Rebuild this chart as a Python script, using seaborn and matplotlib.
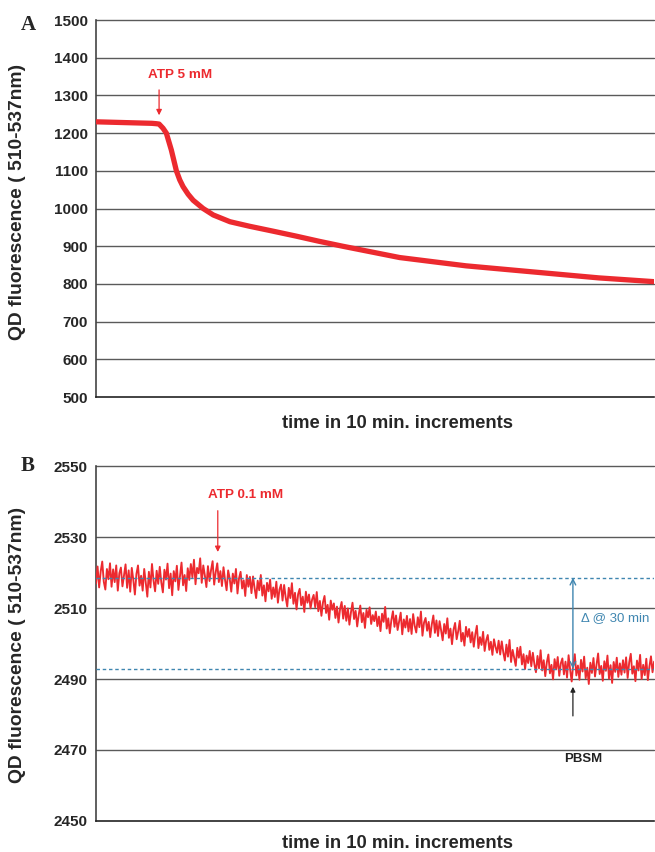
import numpy as np
import pandas as pd
import matplotlib
matplotlib.use("Agg")
import matplotlib.pyplot as plt
import seaborn as sns

sns.set_style("white")
plt.rcParams['font.family'] = ['Liberation Sans', 'DejaVu Sans']

# ---------------- data ----------------
# Panel A : time (10-min increments) vs QD fluorescence, ATP 5 mM
a_time = [0.0, 0.5, 1.0, 1.08, 1.13, 1.2, 1.26, 1.3, 1.35, 1.44, 1.5, 1.56, 1.65,
          1.74, 1.92, 2.1, 2.4, 2.75, 3.17, 3.58, 4.0, 4.42, 5.44, 6.63, 7.82,
          9.01, 10.0]
a_value = [1230, 1228, 1226, 1225, 1224, 1213, 1200, 1180, 1155, 1100, 1076, 1058,
           1038, 1022, 1000, 983, 965, 953, 940, 927, 913, 900, 870, 848, 832,
           816, 806]

# Panel B : QD fluorescence, ATP 0.1 mM (noisy trace)
b_value = [
    2516.9, 2521.7, 2515.8, 2520.3, 2523.1, 2517.4, 2515.2, 2521.0, 2518.1, 2522.6,
    2516.0, 2520.9, 2517.3, 2522.0, 2514.9, 2519.8, 2521.4, 2516.1, 2519.2, 2522.3,
    2515.7, 2520.6, 2514.6, 2521.3, 2517.9, 2513.8, 2519.6, 2522.0, 2516.3, 2519.1,
    2514.9, 2521.0, 2517.0, 2513.2, 2520.2, 2515.8, 2522.4, 2517.7, 2514.7, 2520.5,
    2516.8, 2521.6, 2517.2, 2514.4, 2520.8, 2518.0, 2522.5, 2515.6, 2519.7, 2513.6,
    2520.4, 2517.5, 2521.9, 2515.1, 2518.9, 2522.8, 2516.4, 2519.3, 2514.8, 2521.2,
    2517.9, 2522.4, 2518.6, 2523.6, 2516.7, 2521.3, 2519.8, 2524.0, 2517.1, 2522.0,
    2519.2, 2515.9, 2521.8, 2517.6, 2520.7, 2523.2, 2516.6, 2520.1, 2522.6, 2517.3,
    2520.4, 2516.2, 2521.5, 2517.9, 2515.0, 2520.6, 2518.3, 2514.6, 2519.7, 2516.9,
    2521.0, 2514.1, 2518.4, 2520.2, 2515.5, 2517.8, 2513.4, 2519.3, 2516.0, 2518.8,
    2514.2, 2518.9, 2515.6, 2512.8, 2517.7, 2515.0, 2519.3, 2513.5, 2516.4, 2511.9,
    2517.1, 2514.7, 2518.0, 2512.6, 2515.8, 2513.1, 2517.4, 2511.5, 2515.2, 2516.6,
    2512.1, 2516.5, 2513.0, 2510.4, 2515.7, 2512.8, 2517.0, 2511.2, 2514.3, 2509.6,
    2513.9, 2515.4, 2510.8, 2513.2, 2508.9, 2514.6, 2511.5, 2513.8, 2509.9, 2512.4,
    2513.7, 2510.2, 2514.5, 2509.1, 2512.0, 2507.8, 2511.6, 2513.4, 2508.6, 2510.9,
    2506.7, 2512.1, 2509.5, 2511.3, 2507.2, 2510.4, 2505.9, 2509.8, 2511.7, 2507.0,
    2510.6, 2506.4, 2509.9, 2505.3, 2508.8, 2511.5, 2506.9, 2509.2, 2504.8, 2508.1,
    2510.7, 2506.0, 2508.6, 2504.4, 2509.5, 2507.4, 2510.2, 2505.5, 2508.0, 2506.3,
    2509.0, 2504.9, 2507.6, 2503.5, 2508.4, 2506.1, 2510.3, 2504.2, 2507.1, 2502.9,
    2506.6, 2509.1, 2504.7, 2507.9, 2503.8, 2506.3, 2508.7, 2502.6, 2506.8, 2504.5,
    2507.8, 2503.4, 2506.9, 2502.7, 2508.3, 2505.0, 2503.1, 2507.4, 2504.6, 2509.0,
    2502.2, 2505.9, 2507.2, 2503.6, 2506.1, 2501.8, 2505.4, 2507.9, 2503.0, 2506.5,
    2502.1, 2506.3, 2503.7, 2500.9, 2505.5, 2502.8, 2507.1, 2501.6, 2504.2, 2499.8,
    2503.9, 2505.8, 2501.2, 2503.5, 2506.4, 2500.6, 2503.0, 2499.4, 2504.7, 2501.9,
    2504.1, 2500.3, 2503.2, 2499.1, 2502.6, 2505.0, 2498.7, 2501.8, 2499.6, 2503.3,
    2497.9, 2500.9, 2502.4, 2498.2, 2500.5, 2496.8, 2501.2, 2499.0, 2497.4, 2500.8,
    2496.9, 2500.6, 2497.5, 2495.2, 2499.7, 2496.3, 2501.0, 2494.8, 2498.2, 2495.9,
    2493.7, 2498.8, 2496.0, 2499.1, 2494.1, 2497.0, 2492.8, 2496.6, 2494.5, 2497.9,
    2493.6, 2497.4, 2494.2, 2491.9, 2496.5, 2493.0, 2498.1, 2492.4, 2495.3, 2490.8,
    2494.7, 2496.9, 2491.6, 2494.0, 2489.9, 2495.6, 2492.7, 2496.2, 2490.9, 2494.4,
    2495.8, 2491.3, 2494.9, 2490.4, 2496.7, 2492.6, 2489.3, 2494.3, 2497.0, 2491.0,
    2493.8, 2489.8, 2495.4, 2492.1, 2496.3, 2490.2, 2493.2, 2488.6, 2494.6, 2491.7,
    2495.9, 2490.7, 2494.1, 2497.2, 2491.4, 2493.7, 2489.5, 2495.0, 2492.3, 2496.6,
    2490.1, 2493.9, 2488.9, 2494.8, 2492.0, 2496.0, 2490.6, 2494.4, 2491.2, 2495.3,
    2491.8, 2496.1, 2490.3, 2494.7, 2497.1, 2491.5, 2493.6, 2489.4, 2495.2, 2492.4,
    2496.8, 2490.0, 2494.0, 2491.1, 2495.7, 2489.7, 2493.5, 2496.4, 2491.9, 2494.9,
]
b_time = np.linspace(0.0, 4.95, len(b_value))

baseline_before = 2518.5
baseline_after = 2492.9

a_yticks = [500, 600, 700, 800, 900, 1000, 1100, 1200, 1300, 1400, 1500]
b_yticks = [2450, 2470, 2490, 2510, 2530, 2550]

xlabel = "time in 10 min. increments"
ylabel = "QD fluorescence ( 510-537nm)"

RED = "#ec2a2f"
BLUE = "#3f86b0"
GRID = "#5a5a5a"

# ---------------- figure ----------------
fig = plt.figure(figsize=(6.55, 8.52), dpi=100)
axA = fig.add_axes([0.1466, 0.534, 0.852, 0.4425])
axB = fig.add_axes([0.1466, 0.0364, 0.852, 0.4166])

dfA = pd.DataFrame({"t": a_time, "v": a_value})
dfB = pd.DataFrame({"t": b_time, "v": b_value})

sns.lineplot(data=dfA, x="t", y="v", ax=axA, color=RED, linewidth=3.8, zorder=3)
sns.lineplot(data=dfB, x="t", y="v", ax=axB, color=RED, linewidth=1.35, zorder=3)


def style(ax, yticks, xmax, nxt, xlab_y, ylab_y):
    ax.set_ylim(yticks[0], yticks[-1])
    ax.set_xlim(0, xmax)
    ax.set_yticks(yticks)
    ax.set_yticklabels([str(t) for t in yticks], fontweight="bold", fontsize=11)
    ax.set_xticks(list(range(nxt)))
    ax.set_xticklabels([])
    for t in yticks[1:]:
        ax.axhline(t, color=GRID, linewidth=1.0, zorder=1, clip_on=False)
    for s in ["top", "right"]:
        ax.spines[s].set_visible(False)
    ax.spines["left"].set_color("#444444")
    ax.spines["left"].set_linewidth(1.2)
    ax.spines["bottom"].set_color("#222222")
    ax.spines["bottom"].set_linewidth(1.2)
    ax.tick_params(axis="y", direction="out", length=4, width=1, color="#444444", pad=2)
    ax.tick_params(axis="x", direction="inout", length=7, width=1, color="#222222")
    ax.set_xlabel(xlabel, fontweight="bold", fontsize=13.3)
    ax.set_ylabel(ylabel, fontweight="bold", fontsize=13.9)
    ax.xaxis.set_label_coords(0.540, xlab_y)
    ax.yaxis.set_label_coords(-0.125, ylab_y)


style(axA, a_yticks, 10.0, 11, -0.048, 0.5186)
style(axB, b_yticks, 4.95, 5, -0.040, 0.497)

# Panel A annotation
axA.annotate("", xy=(1.13, 1240), xytext=(1.13, 1322),
             arrowprops=dict(arrowstyle="-|>", color=RED, lw=0.9,
                             mutation_scale=8), zorder=4)
axA.text(1.5, 1354, "ATP 5 mM", color=RED, fontweight="bold", fontsize=9.7,
         ha="center", va="center")

# Panel B annotations
axB.axhline(baseline_before, color=BLUE, linestyle=(0, (2.5, 2)), linewidth=1.0, zorder=4)
axB.axhline(baseline_after, color=BLUE, linestyle=(0, (2.5, 2)), linewidth=1.0, zorder=4)

axB.annotate("", xy=(1.08, 2525.0), xytext=(1.08, 2538.2),
             arrowprops=dict(arrowstyle="-|>", color=RED, lw=0.9,
                             mutation_scale=8), zorder=4)
axB.text(1.33, 2541.8, "ATP 0.1 mM", color=RED, fontweight="bold", fontsize=9.7,
         ha="center", va="center")

axB.annotate("", xy=(4.23, baseline_before), xytext=(4.23, baseline_after),
             arrowprops=dict(arrowstyle="<->", color=BLUE, lw=1.0,
                             mutation_scale=10, shrinkA=0, shrinkB=0), zorder=5)
axB.text(4.30, 2507.3, "\u0394 @ 30 min", color=BLUE, fontsize=9.5,
         ha="left", va="center")

axB.annotate("", xy=(4.23, 2487.8), xytext=(4.23, 2479.6),
             arrowprops=dict(arrowstyle="-|>", color="#222222", lw=0.9,
                             mutation_scale=7, shrinkA=0, shrinkB=0), zorder=5)
axB.text(4.32, 2467.6, "PBSM", color="#222222", fontweight="bold", fontsize=9.5,
         ha="center", va="center")

# Panel letters
fig.text(28 / 655, 1 - 25 / 852, "A", family=["Liberation Serif"], fontweight="bold",
         fontsize=15, ha="center", va="center")
fig.text(28 / 655, 1 - 466 / 852, "B", family=["Liberation Serif"], fontweight="bold",
         fontsize=15, ha="center", va="center")

fig.savefig("out.png", dpi=100)
